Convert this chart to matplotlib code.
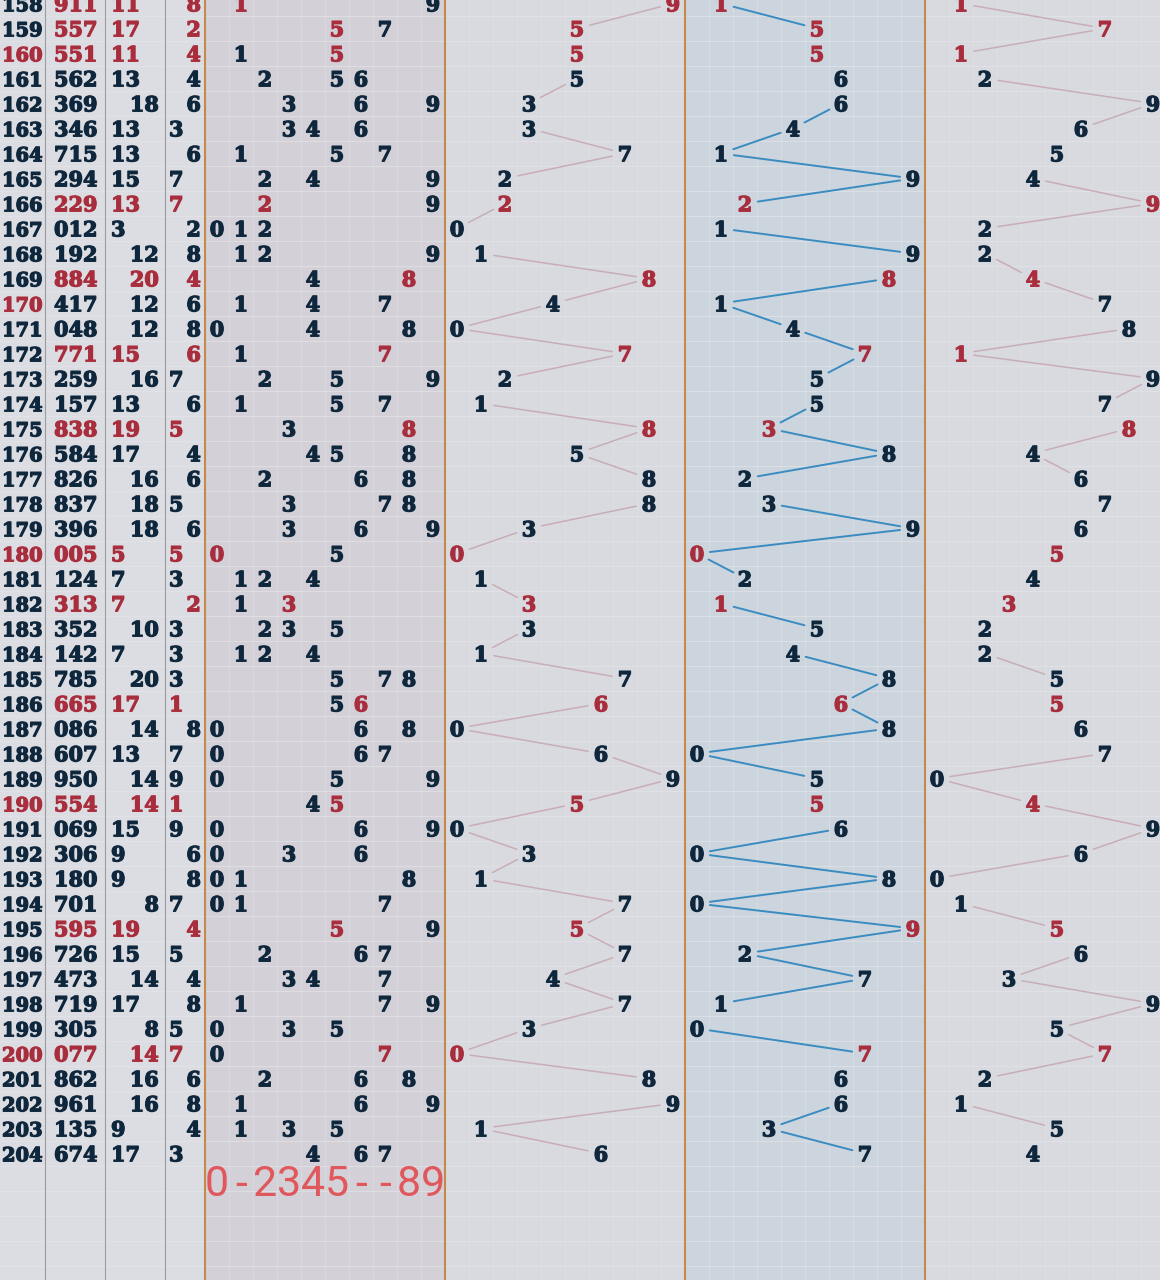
import numpy as np
import matplotlib
matplotlib.use('Agg')
import matplotlib.pyplot as plt
import matplotlib.patheffects as pe

# draw history
issues = list(range(158, 205))
draws = ['911', '557', '551', '562', '369', '346', '715', '294', '229', '012',
         '192', '884', '417', '048', '771', '259', '157', '838', '584', '826',
         '837', '396', '005', '124', '313', '352', '142', '785', '665', '086',
         '607', '950', '554', '069', '306', '180', '701', '595', '726', '473',
         '719', '305', '077', '862', '961', '135', '674']
sums = [11, 17, 11, 13, 18, 13, 13, 15, 13, 3,
        12, 20, 12, 12, 15, 16, 13, 19, 17, 16,
        18, 18, 5, 7, 7, 10, 7, 20, 17, 14,
        13, 14, 14, 15, 9, 9, 8, 19, 15, 14,
        17, 8, 14, 16, 16, 9, 17]
spans = [8, 2, 4, 4, 6, 3, 6, 7, 7, 2,
         8, 4, 6, 8, 6, 7, 6, 5, 4, 6,
         5, 6, 5, 3, 2, 3, 3, 3, 1, 8,
         7, 9, 1, 9, 6, 8, 7, 4, 5, 4,
         8, 5, 7, 6, 8, 4, 3]
footer_text = '0-2345--89'

W, H = 1160, 1280
ROW0, ROW_H = 3.5, 25.0
CELL = 24
zone_left = [205, 445, 685, 925]

ink = '#0f273c'
red = '#a92e3d'
bg = '#dadbe0'

fig = plt.figure(figsize=(W / 100, H / 100), dpi=100, facecolor=bg)
ax = fig.add_axes([0, 0, 1, 1])
ax.set_xlim(0, W)
ax.set_ylim(H, 0)
ax.axis('off')
ax.set_facecolor(bg)

# zone backgrounds
ax.axvspan(0, 205, color='#dcdde2', zorder=0, lw=0)
ax.axvspan(205, 445, color='#d3d0d7', zorder=0, lw=0)
ax.axvspan(445, 685, color='#d9dadf', zorder=0, lw=0)
ax.axvspan(685, 925, color='#ccd5de', zorder=0, lw=0)
ax.axvspan(925, W, color='#d9dadf', zorder=0, lw=0)

# grid
for y in np.arange(ROW0 + ROW_H / 2, H, ROW_H):
    ax.axhline(y, color='#e6e7eb', lw=0.8, alpha=0.6, zorder=1)
for z in zone_left:
    for k in range(1, 10):
        ax.axvline(z + k * CELL, color='#e3e4e8', lw=0.6, alpha=0.5, zorder=1)
for x in (45, 105, 165):
    ax.axvline(x, color='#9c9c9e', lw=0.8, zorder=2)
for z in zone_left:
    ax.axvline(z, color='#c48a4c', lw=1.5, zorder=2)


def row_y(i):
    return ROW0 + ROW_H * i


def put(x, y, s, color, ha='center', size=15):
    ax.text(x, y + 7.8, s, color=color, ha=ha, va='baseline', zorder=5,
            family='DejaVu Serif', fontweight='bold', fontsize=size,
            path_effects=[pe.withStroke(linewidth=0.9, foreground=color)])


line_cols = ['#c8adb8', '#3a8cc0', '#c8adb8']
line_w = [1.1, 1.4, 1.1]
SHRINK = 13

for i, (iss, num, sm, sp) in enumerate(zip(issues, draws, sums, spans)):
    y = row_y(i)
    digits = [int(c) for c in num]
    pair = len(set(digits)) < 3
    c = red if pair else ink
    put(2, y, str(iss), red if iss % 10 == 0 else ink, ha='left', size=14)
    put(54, y, num, c, ha='left')
    if sm % 2:
        put(111, y, str(sm), c, ha='left')
    else:
        put(159, y, str(sm), c, ha='right')
    if sp % 2:
        put(169, y, str(sp), c, ha='left')
    else:
        put(201, y, str(sp), c, ha='right')
    # distribution of digits
    for d in sorted(set(digits)):
        rep = digits.count(d) > 1
        put(zone_left[0] + 12 + CELL * d, y, str(d), red if rep else ink)
    # positional zones
    for p in range(3):
        put(zone_left[p + 1] + 12 + CELL * digits[p], y, str(digits[p]), c)

# trend lines in the positional zones
for p in range(3):
    xs = np.array([zone_left[p + 1] + 12 + CELL * int(n[p]) for n in draws], float)
    ys = np.array([row_y(i) for i in range(len(draws))], float)
    for i in range(len(draws) - 1):
        if abs(int(draws[i + 1][p]) - int(draws[i][p])) < 2:
            continue
        p0 = np.array([xs[i], ys[i]])
        p1 = np.array([xs[i + 1], ys[i + 1]])
        u = (p1 - p0) / np.linalg.norm(p1 - p0)
        a = p0 + u * SHRINK
        b = p1 - u * SHRINK
        ax.plot([a[0], b[0]], [a[1], b[1]], color=line_cols[p], lw=line_w[p],
                zorder=3, solid_capstyle='round')

# footer: one character per digit column
fy = row_y(len(draws)) + 18
for k, ch in enumerate(footer_text):
    ax.text(zone_left[0] + 12 + CELL * k, fy, ch, color='#e0575c', fontsize=31,
            family='Roboto', ha='center', va='baseline', zorder=5)

fig.savefig('out.png', dpi=100, facecolor=bg)
